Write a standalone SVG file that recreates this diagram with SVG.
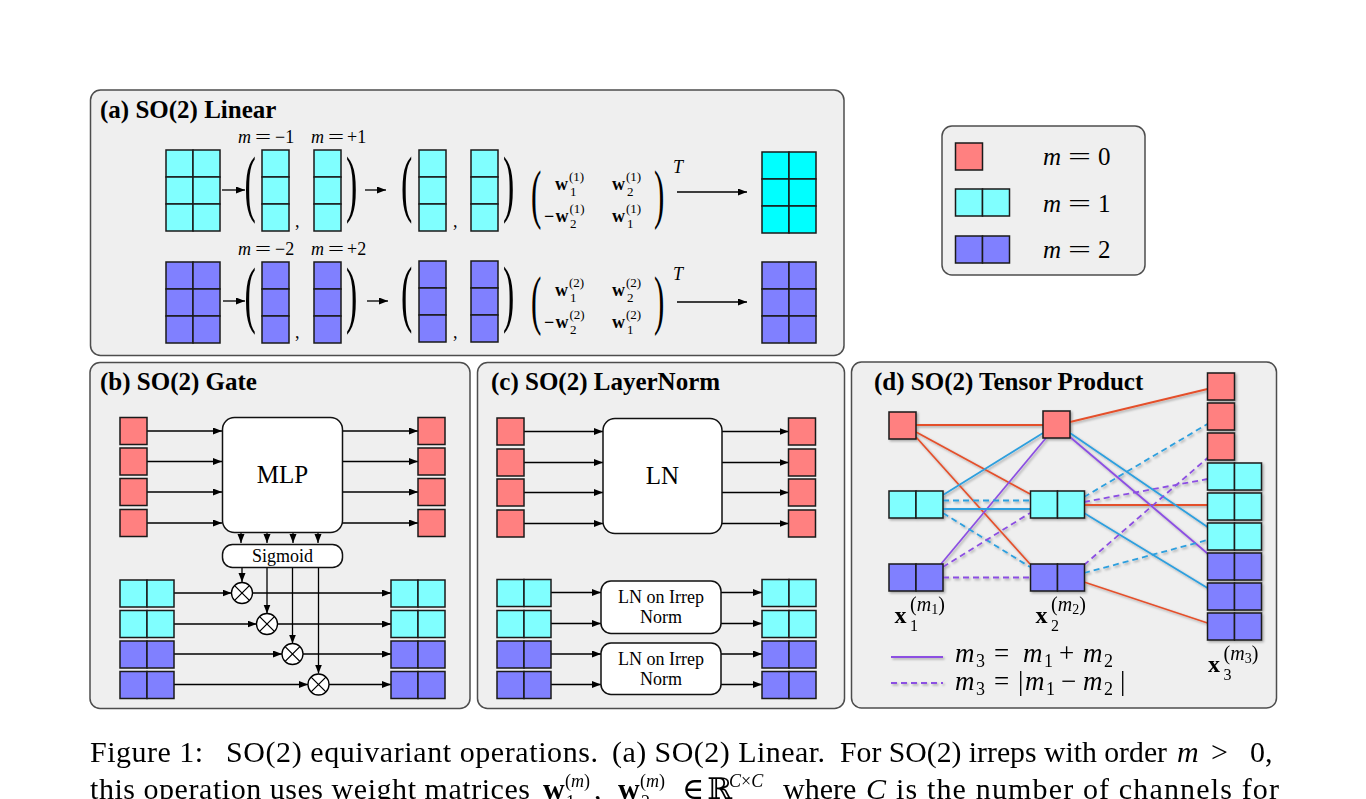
<svg xmlns="http://www.w3.org/2000/svg" width="1366" height="799" viewBox="0 0 1366 799">
<style>
text{font-family:"Liberation Serif","DejaVu Serif",serif;fill:#000}
.ttl{font-weight:bold;font-size:25px}
.it{font-style:italic}
.bf{font-weight:bold}
.panel{fill:#efefef;stroke:#4d4d4d;stroke-width:1.5}
.box{fill:#fff;stroke:#111;stroke-width:1.5}
.ar{stroke:#000;stroke-width:1.3;fill:none;marker-end:url(#ah)}
.tr{stroke:#e4502c;stroke-width:1.8;fill:none}
.tb{stroke:#2d9fde;stroke-width:1.8;fill:none}
.tp{stroke:#8c4fe2;stroke-width:1.8;fill:none}
.d{stroke-dasharray:6 4}
.par{font-size:34px}
.mp{font-size:31px}
.bw{font-weight:bold;font-size:18px}
.sm{font-size:13px}
.lab{font-size:18px}
.leg{font-size:25px}
.lg{font-size:27px}
.cap{font-size:30px}
</style>
<defs>
<marker id="ah" markerWidth="10" markerHeight="8" refX="9" refY="3.5" orient="auto" markerUnits="userSpaceOnUse"><path d="M0,0 L9,3.5 L0,7 z" fill="#000"/></marker>
<filter id="sh" x="-5%" y="-5%" width="110%" height="110%"><feDropShadow dx="1.5" dy="1.5" stdDeviation="1" flood-color="#000" flood-opacity="0.3"/></filter>
<g id="sqR"><rect width="27" height="27" fill="#ff8080" stroke="#1a1a1a" stroke-width="1.5"/></g>
<g id="b2C"><rect width="27" height="27" fill="#80ffff" stroke="#1a1a1a" stroke-width="1.5"/><rect x="27" width="27" height="27" fill="#80ffff" stroke="#1a1a1a" stroke-width="1.5"/></g>
<g id="b2P"><rect width="27" height="27" fill="#8080ff" stroke="#1a1a1a" stroke-width="1.5"/><rect x="27" width="27" height="27" fill="#8080ff" stroke="#1a1a1a" stroke-width="1.5"/></g>
<g id="colC"><rect width="27" height="27" fill="#80ffff" stroke="#1a1a1a" stroke-width="1.5"/><rect y="27" width="27" height="27" fill="#80ffff" stroke="#1a1a1a" stroke-width="1.5"/><rect y="54" width="27" height="27" fill="#80ffff" stroke="#1a1a1a" stroke-width="1.5"/></g>
<g id="colP"><rect width="27" height="27" fill="#8080ff" stroke="#1a1a1a" stroke-width="1.5"/><rect y="27" width="27" height="27" fill="#8080ff" stroke="#1a1a1a" stroke-width="1.5"/><rect y="54" width="27" height="27" fill="#8080ff" stroke="#1a1a1a" stroke-width="1.5"/></g>
<g id="grC"><use href="#colC"/><use href="#colC" x="27"/></g>
<g id="grP"><use href="#colP"/><use href="#colP" x="27"/></g>
<g id="grS"><rect width="27" height="27" fill="#00ffff" stroke="#1a1a1a" stroke-width="1.5"/><rect y="27" width="27" height="27" fill="#00ffff" stroke="#1a1a1a" stroke-width="1.5"/><rect y="54" width="27" height="27" fill="#00ffff" stroke="#1a1a1a" stroke-width="1.5"/><rect x="27" width="27" height="27" fill="#00ffff" stroke="#1a1a1a" stroke-width="1.5"/><rect x="27" y="27" width="27" height="27" fill="#00ffff" stroke="#1a1a1a" stroke-width="1.5"/><rect x="27" y="54" width="27" height="27" fill="#00ffff" stroke="#1a1a1a" stroke-width="1.5"/></g>
<g id="otimes"><circle r="10.5" fill="#fff" stroke="#000" stroke-width="1.3"/><path d="M-7.4,-7.4 L7.4,7.4 M-7.4,7.4 L7.4,-7.4" stroke="#000" stroke-width="1.3"/></g>
</defs>
<rect width="1366" height="799" fill="#fff"/>

<!-- Panels -->
<g id="panels">
<rect class="panel" x="90.5" y="90" width="753.5" height="265.5" rx="10"/>
<rect class="panel" x="90" y="362.5" width="380" height="346" rx="10"/>
<rect class="panel" x="477.5" y="362.5" width="367" height="346" rx="10"/>
<rect class="panel" x="851.5" y="362" width="425" height="346" rx="10"/>
<rect class="panel" x="942" y="126" width="203" height="149" rx="10"/>
<text class="ttl" x="100" y="118">(a) SO(2) Linear</text>
<text class="ttl" x="100" y="390">(b) SO(2) Gate</text>
<text class="ttl" x="491" y="390">(c) SO(2) LayerNorm</text>
<text class="ttl" x="874" y="390">(d) SO(2) Tensor Product</text>
</g>

<!-- Legend -->
<g id="legend">
<g id="leg-m0"><use href="#sqR" x="955.5" y="143"/><text class="leg it" x="1043" y="165">m</text><text class="leg" x="1068" y="165" textLength="23" lengthAdjust="spacingAndGlyphs">=</text><text class="leg" x="1098" y="165">0</text></g>
<g id="leg-m1"><use href="#b2C" x="955.5" y="189"/><text class="leg it" x="1043" y="212">m</text><text class="leg" x="1068" y="212" textLength="23" lengthAdjust="spacingAndGlyphs">=</text><text class="leg" x="1098" y="212">1</text></g>
<g id="leg-m2"><use href="#b2P" x="955.5" y="236"/><text class="leg it" x="1043" y="258">m</text><text class="leg" x="1068" y="258" textLength="23" lengthAdjust="spacingAndGlyphs">=</text><text class="leg" x="1098" y="258">2</text></g>
</g>

<!-- (a) connectors -->
<g id="a-connectors">
<line class="ar" x1="222" y1="190" x2="245" y2="190"/>
<line class="ar" x1="365" y1="190" x2="386" y2="190"/>
<line class="ar" x1="677" y1="192" x2="747" y2="192"/>
<line class="ar" x1="223" y1="301" x2="245" y2="301"/>
<line class="ar" x1="367" y1="301" x2="388" y2="301"/>
<line class="ar" x1="677" y1="302" x2="747" y2="302"/>
</g>

<!-- (a) row 1 -->
<g id="a1-in"><use href="#grC" x="166" y="150"/></g>
<g id="a1-mneg"><use href="#colC" x="262" y="150"/></g>
<g id="a1-mpos"><use href="#colC" x="314" y="150"/></g>
<g id="a1-mneg2"><use href="#colC" x="419" y="150"/></g>
<g id="a1-mpos2"><use href="#colC" x="471" y="150"/></g>
<g id="a1-out"><use href="#grS" x="762" y="152"/></g>
<g id="a1-math">
<text class="lab it" x="238" y="143">m</text><text class="lab" x="255" y="143" textLength="16" lengthAdjust="spacingAndGlyphs">=</text><text class="lab" x="275" y="143">−1</text>
<text class="lab it" x="311" y="143">m</text><text class="lab" x="328" y="143" textLength="16" lengthAdjust="spacingAndGlyphs">=</text><text class="lab" x="347" y="143">+1</text>
<text class="par" transform="translate(244.5,207.5) scale(1,2.2)">(</text>
<text class="par" transform="translate(346,207.5) scale(1,2.2)">)</text>
<text class="par" transform="translate(401,207.5) scale(1,2.2)">(</text>
<text class="par" transform="translate(503,207.5) scale(1,2.2)">)</text>
<text class="lab" x="295" y="227">,</text>
<text class="lab" x="453" y="227">,</text>
<text class="mp" transform="translate(531,216) scale(1,2.1)">(</text>
<text class="mp" transform="translate(654,216) scale(1,2.1)">)</text>
<text class="bw" x="555" y="190">w</text><text class="sm" x="569" y="181">(1)</text><text class="sm" x="570" y="196">1</text>
<text class="bw" x="612" y="190">w</text><text class="sm" x="626" y="181">(1)</text><text class="sm" x="627" y="196">2</text>
<text class="bw" x="544" y="222">−</text><text class="bw" x="555.5" y="222">w</text><text class="sm" x="569.5" y="213">(1)</text><text class="sm" x="570" y="228">2</text>
<text class="bw" x="612" y="222">w</text><text class="sm" x="626" y="213">(1)</text><text class="sm" x="627" y="228">1</text>
<text class="lab it" x="673" y="173" font-size="16">T</text>
</g>

<!-- (a) row 2 -->
<g id="a2-in"><use href="#grP" x="166" y="262"/></g>
<g id="a2-mneg"><use href="#colP" x="262" y="262"/></g>
<g id="a2-mpos"><use href="#colP" x="314" y="262"/></g>
<g id="a2-mneg2"><use href="#colP" x="419" y="261"/></g>
<g id="a2-mpos2"><use href="#colP" x="471" y="261"/></g>
<g id="a2-out"><use href="#grP" x="762" y="262"/></g>
<g id="a2-math">
<text class="lab it" x="238" y="255">m</text><text class="lab" x="255" y="255" textLength="16" lengthAdjust="spacingAndGlyphs">=</text><text class="lab" x="275" y="255">−2</text>
<text class="lab it" x="311" y="255">m</text><text class="lab" x="328" y="255" textLength="16" lengthAdjust="spacingAndGlyphs">=</text><text class="lab" x="347" y="255">+2</text>
<text class="par" transform="translate(244.5,319) scale(1,2.2)">(</text>
<text class="par" transform="translate(346,319) scale(1,2.2)">)</text>
<text class="par" transform="translate(401,318) scale(1,2.2)">(</text>
<text class="par" transform="translate(503,318) scale(1,2.2)">)</text>
<text class="lab" x="295" y="338">,</text>
<text class="lab" x="453" y="338">,</text>
<text class="mp" transform="translate(531,322) scale(1,2.1)">(</text>
<text class="mp" transform="translate(654,322) scale(1,2.1)">)</text>
<text class="bw" x="555" y="296">w</text><text class="sm" x="569" y="287">(2)</text><text class="sm" x="570" y="302">1</text>
<text class="bw" x="612" y="296">w</text><text class="sm" x="626" y="287">(2)</text><text class="sm" x="627" y="302">2</text>
<text class="bw" x="544" y="328">−</text><text class="bw" x="555.5" y="328">w</text><text class="sm" x="569.5" y="319">(2)</text><text class="sm" x="570" y="334">2</text>
<text class="bw" x="612" y="328">w</text><text class="sm" x="626" y="319">(2)</text><text class="sm" x="627" y="334">1</text>
<text class="lab it" x="673" y="280" font-size="16">T</text>
</g>

<!-- (b) Gate connectors -->
<g id="b-connectors">
<line class="ar" x1="147" y1="431" x2="222" y2="431"/>
<line class="ar" x1="147" y1="461.5" x2="222" y2="461.5"/>
<line class="ar" x1="147" y1="492" x2="222" y2="492"/>
<line class="ar" x1="147" y1="523" x2="222" y2="523"/>
<line class="ar" x1="342" y1="431" x2="418" y2="431"/>
<line class="ar" x1="342" y1="461.5" x2="418" y2="461.5"/>
<line class="ar" x1="342" y1="492" x2="418" y2="492"/>
<line class="ar" x1="342" y1="523" x2="418" y2="523"/>
<line class="ar" x1="241" y1="532" x2="241" y2="543"/>
<line class="ar" x1="267" y1="532" x2="267" y2="543"/>
<line class="ar" x1="293" y1="532" x2="293" y2="543"/>
<line class="ar" x1="318" y1="532" x2="318" y2="543"/>
<line class="ar" x1="242" y1="567" x2="242" y2="582"/>
<line class="ar" x1="267" y1="567" x2="267" y2="613.5"/>
<line class="ar" x1="292.5" y1="567" x2="292.5" y2="643.5"/>
<line class="ar" x1="318.5" y1="567" x2="318.5" y2="673.5"/>
<line class="ar" x1="174" y1="593" x2="231.5" y2="593"/>
<line class="ar" x1="252.5" y1="593" x2="391" y2="593"/>
<line class="ar" x1="174" y1="624" x2="256.5" y2="624"/>
<line class="ar" x1="277.5" y1="624" x2="391" y2="624"/>
<line class="ar" x1="174" y1="654" x2="282" y2="654"/>
<line class="ar" x1="303" y1="654" x2="391" y2="654"/>
<line class="ar" x1="174" y1="684.5" x2="308" y2="684.5"/>
<line class="ar" x1="329" y1="684.5" x2="391" y2="684.5"/>
</g>
<g id="b-in0-1"><use href="#sqR" x="120" y="417.5"/></g>
<g id="b-in0-2"><use href="#sqR" x="120" y="448"/></g>
<g id="b-in0-3"><use href="#sqR" x="120" y="478.5"/></g>
<g id="b-in0-4"><use href="#sqR" x="120" y="509.5"/></g>
<g id="b-out0-1"><use href="#sqR" x="418" y="417.5"/></g>
<g id="b-out0-2"><use href="#sqR" x="418" y="448"/></g>
<g id="b-out0-3"><use href="#sqR" x="418" y="478.5"/></g>
<g id="b-out0-4"><use href="#sqR" x="418" y="509.5"/></g>
<g id="b-mlp"><rect class="box" x="222.5" y="417.5" width="120" height="115" rx="12"/><text x="282.5" y="483" font-size="25" text-anchor="middle">MLP</text></g>
<g id="b-sigmoid"><rect class="box" x="222.5" y="544.5" width="120" height="23" rx="10"/><text x="282.5" y="562" font-size="18" text-anchor="middle">Sigmoid</text></g>
<g id="b-in1-1"><use href="#b2C" x="120" y="580"/></g>
<g id="b-in1-2"><use href="#b2C" x="120" y="610.5"/></g>
<g id="b-in2-1"><use href="#b2P" x="120" y="641"/></g>
<g id="b-in2-2"><use href="#b2P" x="120" y="671.5"/></g>
<g id="b-out1-1"><use href="#b2C" x="391" y="580"/></g>
<g id="b-out1-2"><use href="#b2C" x="391" y="610.5"/></g>
<g id="b-out2-1"><use href="#b2P" x="391" y="641"/></g>
<g id="b-out2-2"><use href="#b2P" x="391" y="671.5"/></g>
<g id="b-mul1"><use href="#otimes" x="242" y="593"/></g>
<g id="b-mul2"><use href="#otimes" x="267" y="624"/></g>
<g id="b-mul3"><use href="#otimes" x="292.5" y="654"/></g>
<g id="b-mul4"><use href="#otimes" x="318.5" y="684.5"/></g>

<!-- (c) LayerNorm -->
<g id="c-connectors">
<line class="ar" x1="524" y1="431.5" x2="603" y2="431.5"/>
<line class="ar" x1="524" y1="462.5" x2="603" y2="462.5"/>
<line class="ar" x1="524" y1="492.5" x2="603" y2="492.5"/>
<line class="ar" x1="524" y1="523.5" x2="603" y2="523.5"/>
<line class="ar" x1="722" y1="431.5" x2="788.5" y2="431.5"/>
<line class="ar" x1="722" y1="462.5" x2="788.5" y2="462.5"/>
<line class="ar" x1="722" y1="492.5" x2="788.5" y2="492.5"/>
<line class="ar" x1="722" y1="523.5" x2="788.5" y2="523.5"/>
<line class="ar" x1="551" y1="592.5" x2="601" y2="592.5"/>
<line class="ar" x1="551" y1="623.5" x2="601" y2="623.5"/>
<line class="ar" x1="551" y1="654" x2="601" y2="654"/>
<line class="ar" x1="551" y1="684.5" x2="601" y2="684.5"/>
<line class="ar" x1="721" y1="592.5" x2="762" y2="592.5"/>
<line class="ar" x1="721" y1="623.5" x2="762" y2="623.5"/>
<line class="ar" x1="721" y1="654" x2="762" y2="654"/>
<line class="ar" x1="721" y1="684.5" x2="762" y2="684.5"/>
</g>
<g id="c-in0-1"><use href="#sqR" x="497" y="418"/></g>
<g id="c-in0-2"><use href="#sqR" x="497" y="449"/></g>
<g id="c-in0-3"><use href="#sqR" x="497" y="479"/></g>
<g id="c-in0-4"><use href="#sqR" x="497" y="510"/></g>
<g id="c-out0-1"><use href="#sqR" x="788.5" y="418"/></g>
<g id="c-out0-2"><use href="#sqR" x="788.5" y="449"/></g>
<g id="c-out0-3"><use href="#sqR" x="788.5" y="479"/></g>
<g id="c-out0-4"><use href="#sqR" x="788.5" y="510"/></g>
<g id="c-ln"><rect class="box" x="603" y="418.5" width="119" height="115" rx="12"/><text x="662.5" y="484" font-size="25" text-anchor="middle">LN</text></g>
<g id="c-in1-1"><use href="#b2C" x="497" y="579.5"/></g>
<g id="c-in1-2"><use href="#b2C" x="497" y="610.5"/></g>
<g id="c-in2-1"><use href="#b2P" x="497" y="641"/></g>
<g id="c-in2-2"><use href="#b2P" x="497" y="671.5"/></g>
<g id="c-out1-1"><use href="#b2C" x="762" y="579.5"/></g>
<g id="c-out1-2"><use href="#b2C" x="762" y="610.5"/></g>
<g id="c-out2-1"><use href="#b2P" x="762" y="641"/></g>
<g id="c-out2-2"><use href="#b2P" x="762" y="671.5"/></g>
<g id="c-lnirrep1"><rect class="box" x="601" y="581" width="120" height="52.5" rx="10"/><text x="661" y="603" font-size="18" text-anchor="middle">LN on Irrep</text><text x="661" y="623" font-size="18" text-anchor="middle">Norm</text></g>
<g id="c-lnirrep2"><rect class="box" x="601" y="643" width="120" height="51.5" rx="10"/><text x="661" y="664.5" font-size="18" text-anchor="middle">LN on Irrep</text><text x="661" y="684.5" font-size="18" text-anchor="middle">Norm</text></g>

<!-- (d) Tensor product -->
<g id="d-content" filter="url(#sh)">
<g id="d-connectors">
<line class="tr" x1="916" y1="425" x2="1043" y2="425"/>
<line class="tr" x1="916" y1="432" x2="1030" y2="494"/>
<line class="tr" x1="916" y1="437" x2="1030" y2="564"/>
<line class="tb" x1="943" y1="495" x2="1043" y2="433"/>
<line class="tp" x1="941" y1="564" x2="1046" y2="438"/>
<line class="tb d" x1="943" y1="500.5" x2="1030" y2="500.5"/>
<line class="tb" x1="943" y1="509" x2="1030" y2="509"/>
<line class="tb d" x1="943" y1="513" x2="1030" y2="567"/>
<line class="tp d" x1="943" y1="567" x2="1030" y2="513"/>
<line class="tp d" x1="943" y1="577.5" x2="1030" y2="577.5"/>
<line class="tr" x1="1070" y1="422" x2="1207.5" y2="389"/>
<line class="tb d" x1="1084" y1="497" x2="1207.5" y2="424"/>
<line class="tp d" x1="1084" y1="502" x2="1207.5" y2="479"/>
<line class="tr" x1="1084" y1="505" x2="1207.5" y2="505"/>
<line class="tb" x1="1070" y1="433" x2="1207.5" y2="527"/>
<line class="tp" x1="1070" y1="437" x2="1207.5" y2="553.5"/>
<line class="tb" x1="1084" y1="513" x2="1207.5" y2="588"/>
<line class="tp d" x1="1084" y1="565" x2="1207.5" y2="458"/>
<line class="tb d" x1="1084" y1="573" x2="1207.5" y2="540"/>
<line class="tr" x1="1084" y1="582" x2="1207.5" y2="623"/>
</g>
<g id="d-x1-0"><use href="#sqR" x="889" y="412"/></g>
<g id="d-x1-1"><use href="#b2C" x="889" y="491"/></g>
<g id="d-x1-2"><use href="#b2P" x="889" y="564"/></g>
<g id="d-x2-0"><use href="#sqR" x="1043" y="411"/></g>
<g id="d-x2-1"><use href="#b2C" x="1030.5" y="491"/></g>
<g id="d-x2-2"><use href="#b2P" x="1030.5" y="564"/></g>
<g id="d-x3-0a"><use href="#sqR" x="1207.5" y="373"/></g>
<g id="d-x3-0b"><use href="#sqR" x="1207.5" y="403"/></g>
<g id="d-x3-0c"><use href="#sqR" x="1207.5" y="433"/></g>
<g id="d-x3-1a"><use href="#b2C" x="1207.5" y="463"/></g>
<g id="d-x3-1b"><use href="#b2C" x="1207.5" y="493"/></g>
<g id="d-x3-1c"><use href="#b2C" x="1207.5" y="523"/></g>
<g id="d-x3-2a"><use href="#b2P" x="1207.5" y="553"/></g>
<g id="d-x3-2b"><use href="#b2P" x="1207.5" y="583"/></g>
<g id="d-x3-2c"><use href="#b2P" x="1207.5" y="613"/></g>
<g id="d-legend">
<line class="tp" x1="891" y1="657" x2="943" y2="657"/>
<line class="tp d" x1="891" y1="683" x2="943" y2="683"/>
</g>
</g>
<g id="d-labels">
<text class="bf" x="894.5" y="623" font-size="24">x</text><text x="910" y="611" font-size="20">(<tspan class="it">m</tspan><tspan font-size="14" dy="3">1</tspan><tspan dy="-3">)</tspan></text><text x="910" y="631" font-size="16">1</text>
<text class="bf" x="1035.5" y="623" font-size="24">x</text><text x="1051" y="611" font-size="20">(<tspan class="it">m</tspan><tspan font-size="14" dy="3">2</tspan><tspan dy="-3">)</tspan></text><text x="1051" y="631" font-size="16">2</text>
<text class="bf" x="1208" y="672" font-size="24">x</text><text x="1223.5" y="660" font-size="20">(<tspan class="it">m</tspan><tspan font-size="14" dy="3">3</tspan><tspan dy="-3">)</tspan></text><text x="1223.5" y="680" font-size="16">3</text>
<text class="lg" y="662"><tspan class="it" x="955">m</tspan><tspan x="976" y="667" font-size="18">3</tspan><tspan x="994" y="662">=</tspan><tspan class="it" x="1023">m</tspan><tspan x="1044" y="667" font-size="18">1</tspan><tspan x="1059" y="662">+</tspan><tspan class="it" x="1083">m</tspan><tspan x="1104" y="667" font-size="18">2</tspan></text>
<text class="lg" y="690"><tspan class="it" x="955">m</tspan><tspan x="976" y="695" font-size="18">3</tspan><tspan x="994" y="690">=</tspan><tspan x="1018" y="690">|</tspan><tspan class="it" x="1025">m</tspan><tspan x="1046" y="695" font-size="18">1</tspan><tspan x="1061" y="690">−</tspan><tspan class="it" x="1083">m</tspan><tspan x="1104" y="695" font-size="18">2</tspan><tspan x="1120" y="690">|</tspan></text>
</g>

<!-- Caption -->
<g id="caption">
<text class="cap" x="90" y="762" textLength="113" lengthAdjust="spacing">Figure 1:</text>
<text class="cap" x="226" y="762" textLength="372" lengthAdjust="spacing">SO(2) equivariant operations.</text>
<text class="cap" x="612" y="762" textLength="213" lengthAdjust="spacing">(a) SO(2) Linear.</text>
<text class="cap" x="840" y="762" textLength="327" lengthAdjust="spacingAndGlyphs">For SO(2) irreps with order</text>
<text class="cap it" x="1177" y="762">m</text>
<text class="cap" x="1211" y="762">&gt;</text>
<text class="cap" x="1250" y="762">0,</text>
<text class="cap" x="90" y="799" textLength="440" lengthAdjust="spacing">this operation uses weight matrices</text>
<text class="cap bf" x="543" y="799">w</text><text x="565" y="787" font-size="18">(<tspan class="it">m</tspan>)</text><text x="566" y="808" font-size="18">1</text><text class="cap" x="594" y="799">,</text>
<text class="cap bf" x="618" y="799">w</text><text x="640" y="787" font-size="18">(<tspan class="it">m</tspan>)</text><text x="641" y="808" font-size="18">2</text>
<text class="cap" x="682" y="799">∈</text>
<text class="cap" x="707" y="799">ℝ</text>
<text x="729" y="787" font-size="18"><tspan class="it">C</tspan>×<tspan class="it">C</tspan></text>
<text class="cap" x="783" y="799">where</text>
<text class="cap it" x="866" y="799">C</text>
<text class="cap" x="896" y="799" textLength="383" lengthAdjust="spacing">is the number of channels for</text>
</g>
</svg>
